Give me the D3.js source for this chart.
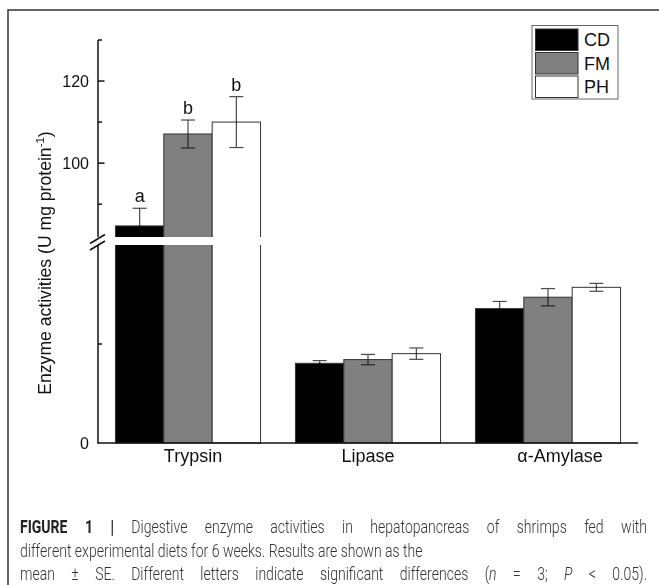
<!DOCTYPE html>
<html>
<head>
<meta charset="utf-8">
<script src="https://cdn.jsdelivr.net/npm/d3@7"></script>
<style>
  html, body { margin: 0; padding: 0; background: #fff; }
  svg { display: block; }
</style>
</head>
<body>
<svg id="chart" width="659" height="585"></svg>
<script>
// ---- data ----
const categories = ["Trypsin", "Lipase", "α-Amylase"];
const seriesNames = ["CD", "FM", "PH"];
const seriesColors = ["#000000", "#808080", "#ffffff"];
const means = {
  CD: [84.7, 32.2, 54.3],
  FM: [107.1, 33.7, 58.9],
  PH: [110.0, 36.1, 62.9]
};
const errors = {
  CD: [4.3, 1.1, 2.9],
  FM: [3.4, 2.1, 3.5],
  PH: [6.2, 2.3, 1.6]
};
const letters = {
  CD: ["a", "", ""],
  FM: ["b", "", ""],
  PH: ["b", "", ""]
};
const upperTicks = [90, 100, 110, 120, 130];
const upperLabels = {100: "100", 120: "120"};
const lowerTicks = [0, 40];
const lowerLabels = {0: "0"};
// caption lines: segments [text, weight, style]
const captionLines = [
  [["FIGURE 1 |", "bold", "normal"], [" Digestive enzyme activities in hepatopancreas of shrimps fed with", 300, "normal"]],
  [["different experimental diets for 6 weeks. Results are shown as the", 300, "normal"]],
  [["mean ± SE. Different letters indicate significant differences (", 300, "normal"], ["n", 300, "italic"],
   [" = 3; ", 300, "normal"], ["P", 300, "italic"], [" < 0.05).", 300, "normal"]]
];

// ---- layout ----
const svg = d3.select("#chart");
const xLeft = 98, xRight = 638;
const yZero = 443, yLowTop = 245, yUpBot = 237, yTop = 40;
const lowerDomain = [0, 80], upperDomain = [82, 130];

const yL = d3.scaleLinear().domain(lowerDomain).range([yZero, yLowTop]);
const yU = d3.scaleLinear().domain(upperDomain).range([yUpBot, yTop]);
const y = v => (v <= lowerDomain[1] ? yL(v) : yU(Math.max(v, upperDomain[0])));

const x0 = d3.scaleBand().domain(categories).range([xLeft, xRight])
  .paddingInner(0.194).paddingOuter(0.097);
const x1 = d3.scaleBand().domain(seriesNames).range([0, x0.bandwidth()]);

const font = "'Liberation Sans', Arial, sans-serif";

// frame
svg.append("path").attr("d", "M8,585 V10 H659")
  .attr("fill", "none").attr("stroke", "#333").attr("stroke-width", 1.5);

// bars
const data = [];
categories.forEach((c, i) => seriesNames.forEach((s, j) => {
  data.push({cat: c, s, j, v: means[s][i], e: errors[s][i], L: letters[s][i]});
}));

const g = svg.append("g");
g.selectAll("rect.bar").data(data).enter().append("rect")
  .attr("class", "bar")
  .attr("x", d => x0(d.cat) + x1(d.s))
  .attr("width", x1.bandwidth())
  .attr("y", d => y(d.v))
  .attr("height", d => yZero - y(d.v))
  .attr("fill", d => seriesColors[d.j])
  .attr("stroke", "#333").attr("stroke-width", 1);

// error bars
const eg = g.append("g").style("mix-blend-mode", "multiply")
  .attr("stroke", "#4a4a4a").attr("stroke-width", 1.2).attr("fill", "none");
data.forEach(d => {
  const cx = x0(d.cat) + x1(d.s) + x1.bandwidth() / 2;
  const yt = y(d.v + d.e), yb = y(d.v - d.e);
  eg.append("line").attr("x1", cx).attr("x2", cx).attr("y1", yt).attr("y2", yb);
  eg.append("line").attr("x1", cx - 7).attr("x2", cx + 7).attr("y1", yt).attr("y2", yt);
  eg.append("line").attr("x1", cx - 7).attr("x2", cx + 7).attr("y1", yb).attr("y2", yb);
});

// significance letters
g.selectAll("text.sig").data(data.filter(d => d.L)).enter().append("text")
  .attr("x", d => x0(d.cat) + x1(d.s) + x1.bandwidth() / 2)
  .attr("y", d => y(d.v + d.e) - 6)
  .attr("text-anchor", "middle")
  .attr("font-family", font).attr("font-size", 18).attr("fill", "#111")
  .text(d => d.L);

// break gap
svg.append("rect").attr("x", xLeft + 1).attr("y", yUpBot)
  .attr("width", xRight - xLeft).attr("height", yLowTop - yUpBot)
  .attr("fill", "#fff");

// axes
const ax = svg.append("g").attr("stroke", "#111").attr("stroke-width", 1.5);
ax.append("line").attr("x1", xLeft).attr("x2", xLeft).attr("y1", yU(upperDomain[1])).attr("y2", yUpBot);
ax.append("line").attr("x1", xLeft).attr("x2", xLeft).attr("y1", yLowTop).attr("y2", yZero);
ax.append("line").attr("x1", xLeft - 0.75).attr("x2", xRight).attr("y1", yZero).attr("y2", yZero);
[239, 245.5].forEach(c => {
  ax.append("line").attr("x1", 90).attr("y1", c + 4.5).attr("x2", 105).attr("y2", c - 4.5);
});
upperTicks.forEach(t => {
  const major = upperLabels[t] !== undefined;
  ax.append("line").attr("x1", xLeft).attr("x2", xLeft + (major ? 6.5 : 4))
    .attr("y1", yU(t)).attr("y2", yU(t));
});
lowerTicks.forEach(t => {
  if (t === 0) return;
  ax.append("line").attr("x1", xLeft).attr("x2", xLeft + 4).attr("y1", yL(t)).attr("y2", yL(t));
});
const tl = svg.append("g").attr("font-family", font).attr("font-size", 16)
  .attr("fill", "#111").attr("text-anchor", "end");
upperTicks.filter(t => upperLabels[t]).forEach(t => {
  tl.append("text").attr("x", 89).attr("y", yU(t)).attr("dy", "0.35em").text(upperLabels[t]);
});
lowerTicks.filter(t => lowerLabels[t]).forEach(t => {
  tl.append("text").attr("x", 89).attr("y", yL(t)).attr("dy", "0.35em").text(lowerLabels[t]);
});

// category labels
svg.append("g").selectAll("text").data(categories).enter().append("text")
  .attr("x", d => x0(d) + x0.bandwidth() / 2 + (d === "Trypsin" ? 5 : d === "α-Amylase" ? 12 : 0))
  .attr("y", 462)
  .attr("text-anchor", "middle")
  .attr("font-family", font).attr("font-size", 18).attr("fill", "#111")
  .text(d => d);

// y-axis title
const ytt = svg.append("text")
  .attr("transform", "translate(51,263) rotate(-90)")
  .attr("text-anchor", "middle")
  .attr("font-family", font).attr("font-size", 17.6).attr("fill", "#111");
ytt.append("tspan").text("Enzyme activities (U mg protein");
ytt.append("tspan").attr("font-size", 11.5).attr("dy", -7).text("-1");
ytt.append("tspan").attr("dy", 7).text(")");

// legend
const lg = svg.append("g");
lg.append("rect").attr("x", 532).attr("y", 25.5).attr("width", 86).attr("height", 73.5)
  .attr("fill", "#fff").attr("stroke", "#666").attr("stroke-width", 1);
seriesNames.forEach((s, i) => {
  const yy = 29 + i * 23.5;
  lg.append("rect").attr("x", 535.5).attr("y", yy).attr("width", 42.5).attr("height", 21.5)
    .attr("fill", seriesColors[i]).attr("stroke", "#333").attr("stroke-width", 1);
  lg.append("text").attr("x", 584).attr("y", yy + 11).attr("dy", "0.36em")
    .attr("font-family", font).attr("font-size", 18).attr("fill", "#111").text(s);
});

// caption (justified lines 1 and 3, condensed glyphs)
const cf = "Roboto, 'Liberation Sans', sans-serif";
const capFS = 18;
const capX = 20, capRight = 647, line2Right = 423;
const capY = [532.5, 556.5, 580];
const capTexts = captionLines.map((segs, i) => {
  const gg = svg.append("g").attr("transform", `translate(${capX},${capY[i]})`);
  const t = gg.append("text").attr("x", 0).attr("y", 0)
    .attr("font-family", cf).attr("font-size", capFS).attr("fill", "#333");
  segs.forEach(s => t.append("tspan").attr("font-weight", s[1]).attr("font-style", s[2])
    .attr("fill", s[1] === "bold" ? "#222" : "#333").text(s[0]));
  return {gg, t, segs};
});
const w2 = capTexts[1].t.node().getComputedTextLength();
const k = (line2Right - capX) / w2;
capTexts.forEach((c, i) => {
  c.gg.attr("transform", `translate(${capX},${capY[i]}) scale(${k},1)`);
  if (i === 1) return;
  const w = c.t.node().getComputedTextLength();
  const nSpaces = c.segs.map(s => s[0]).join("").split(" ").length - 1;
  const extra = ((capRight - capX) / k - w) / nSpaces;
  c.t.attr("word-spacing", extra);
});
</script>
</body>
</html>
